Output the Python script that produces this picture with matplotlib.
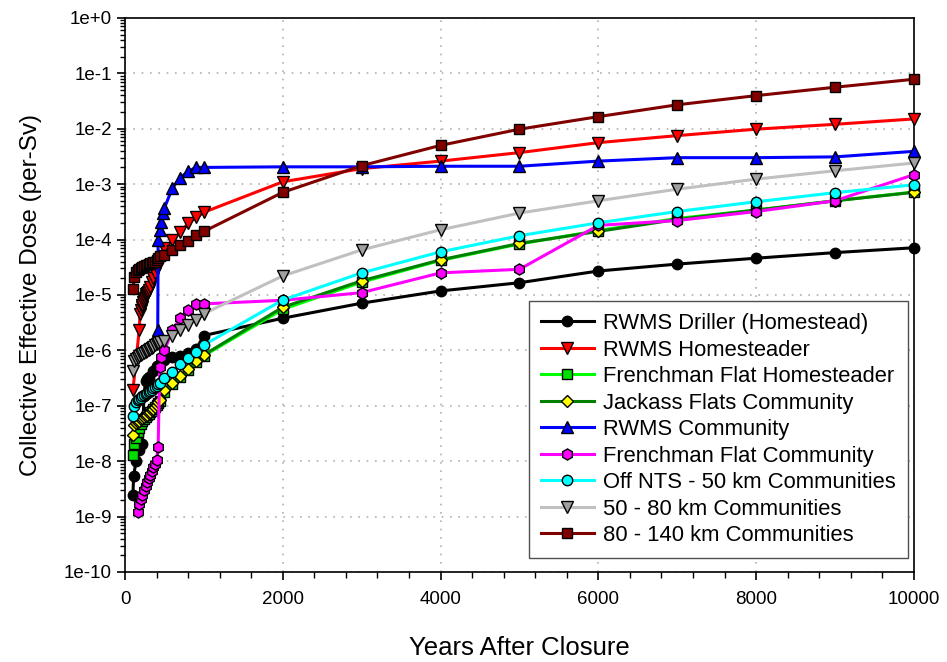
import numpy as np
import matplotlib
matplotlib.use("Agg")
import matplotlib.pyplot as plt
from matplotlib.ticker import FixedLocator, LogLocator, MultipleLocator, NullFormatter

plt.rcParams['font.family'] = ['Liberation Sans', 'DejaVu Sans']

# years after closure, shared late-time grid
t_late = [2000, 3000, 4000, 5000, 6000, 7000, 8000, 9000, 10000]
t_chain = [100, 120, 140, 160, 180, 200, 220, 240, 260, 280, 300, 320, 340, 360, 380, 400, 420, 440]
t_mid = [500, 600, 700, 800, 900, 1000]

# RWMS Driller (Homestead)
t_driller = [100, 110, 140, 180, 220, 240, 260, 280, 300, 350, 400, 450] + t_mid + t_late
v_driller = [2.5e-9, 5.5e-9, 1.0e-8, 1.6e-8, 2.0e-8, 1.5e-7, 2.8e-7, 3.1e-7, 3.3e-7, 4.2e-7, 5.2e-7, 6.2e-7,
             6.6e-7, 7.5e-7, 8.0e-7, 8.8e-7, 1.05e-6, 1.85e-6,
             3.8e-6, 7.1e-6, 1.18e-5, 1.66e-5, 2.7e-5, 3.6e-5, 4.6e-5, 5.8e-5, 7.1e-5]

# RWMS Homesteader
t_homest = [100, 180, 190, 200, 210, 220, 230, 240, 250, 260, 270, 280, 290, 300, 320, 340, 360, 380,
            400, 420, 440] + t_mid + t_late
v_homest = [1.9e-7, 2.3e-6, 4.5e-6, 5.3e-6, 6.0e-6, 6.7e-6, 7.4e-6, 8.1e-6, 8.8e-6, 9.5e-6, 1.02e-5,
            1.09e-5, 1.15e-5, 1.22e-5, 1.4e-5, 1.7e-5, 2.0e-5, 2.5e-5, 3.0e-5, 3.5e-5, 4.0e-5,
            7.0e-5, 9.6e-5, 1.35e-4, 1.95e-4, 2.5e-4, 3.1e-4,
            1.1e-3, 1.9e-3, 2.6e-3, 3.7e-3, 5.6e-3, 7.5e-3, 9.8e-3, 1.2e-2, 1.5e-2]

# Frenchman Flat Homesteader
t_ffh = t_chain + t_mid + t_late
v_ffh = [1.3e-8, 2.0e-8, 2.6e-8, 3.3e-8, 4.0e-8, 4.6e-8, 5.2e-8, 5.7e-8, 6.2e-8, 6.7e-8, 7.2e-8, 7.7e-8,
         8.2e-8, 8.8e-8, 9.4e-8, 1.02e-7, 1.12e-7, 1.22e-7,
         1.8e-7, 2.5e-7, 3.3e-7, 4.5e-7, 6.1e-7, 8.0e-7,
         5.5e-6, 1.7e-5, 4.2e-5, 8.3e-5, 1.45e-4, 2.4e-4, 3.4e-4, 5.0e-4, 7.2e-4]

# Jackass Flats Community
t_jack = t_chain + t_mid + t_late
v_jack = [3.0e-8, 4.4e-8, 4.8e-8, 5.1e-8, 5.4e-8, 5.7e-8, 6.0e-8, 6.3e-8, 6.6e-8, 6.9e-8, 7.3e-8, 7.8e-8,
          8.3e-8, 8.9e-8, 9.6e-8, 1.05e-7, 1.15e-7, 1.27e-7,
          1.9e-7, 2.6e-7, 3.4e-7, 4.6e-7, 6.3e-7, 8.3e-7,
          6.0e-6, 1.8e-5, 4.3e-5, 8.5e-5, 1.4e-4, 2.3e-4, 3.4e-4, 5.0e-4, 7.1e-4]

# RWMS Community
t_rwmsc = [415, 420, 440, 460, 480] + t_mid + t_late
v_rwmsc = [2.3e-6, 1.0e-4, 1.5e-4, 2.1e-4, 3.0e-4,
           3.7e-4, 8.5e-4, 1.3e-3, 1.7e-3, 2.0e-3, 2.0e-3,
           2.05e-3, 2.05e-3, 2.1e-3, 2.1e-3, 2.6e-3, 3.0e-3, 3.0e-3, 3.1e-3, 3.9e-3]

# Frenchman Flat Community
t_ffc = [160, 180, 200, 220, 240, 260, 280, 300, 320, 340, 360, 380, 400, 420, 440, 460] + t_mid + t_late
v_ffc = [1.2e-9, 1.7e-9, 2.1e-9, 2.5e-9, 3.0e-9, 3.6e-9, 4.2e-9, 5.0e-9, 5.7e-9, 6.6e-9, 7.7e-9, 8.9e-9,
         1.05e-8, 1.8e-8, 5.0e-7, 7.5e-7,
         1.0e-6, 2.3e-6, 3.8e-6, 5.4e-6, 6.9e-6, 6.9e-6,
         8.0e-6, 1.1e-5, 2.5e-5, 2.9e-5, 1.8e-4, 2.2e-4, 3.2e-4, 5.0e-4, 1.48e-3]

# Off NTS - 50 km Communities
t_off50 = t_chain + t_mid + t_late
v_off50 = [6.5e-8, 1.0e-7, 1.15e-7, 1.25e-7, 1.32e-7, 1.4e-7, 1.47e-7, 1.54e-7, 1.62e-7, 1.7e-7, 1.78e-7,
           1.87e-7, 1.96e-7, 2.06e-7, 2.17e-7, 2.3e-7, 2.45e-7, 2.6e-7,
           3.2e-7, 4.1e-7, 5.7e-7, 7.2e-7, 9.5e-7, 1.25e-6,
           8.1e-6, 2.5e-5, 6.0e-5, 1.17e-4, 2.0e-4, 3.2e-4, 4.8e-4, 7.0e-4, 9.7e-4]

# 50 - 80 km Communities
t_c5080 = t_chain + t_mid + t_late
v_c5080 = [4.2e-7, 6.5e-7, 7.0e-7, 7.4e-7, 7.8e-7, 8.2e-7, 8.6e-7, 9.0e-7, 9.4e-7, 9.8e-7, 1.02e-6,
           1.07e-6, 1.12e-6, 1.17e-6, 1.23e-6, 1.3e-6, 1.37e-6, 1.44e-6,
           1.5e-6, 1.8e-6, 2.3e-6, 2.9e-6, 3.5e-6, 4.6e-6,
           2.2e-5, 6.5e-5, 1.5e-4, 3.0e-4, 5.0e-4, 8.1e-4, 1.23e-3, 1.74e-3, 2.4e-3]

# 80 - 140 km Communities
t_c80140 = t_chain + t_mid + t_late
v_c80140 = [1.3e-5, 2.1e-5, 2.6e-5, 2.8e-5, 2.95e-5, 3.1e-5, 3.2e-5, 3.3e-5, 3.4e-5, 3.5e-5, 3.6e-5,
            3.7e-5, 3.8e-5, 3.9e-5, 4.0e-5, 4.2e-5, 4.6e-5, 5.0e-5,
            5.3e-5, 6.5e-5, 7.8e-5, 9.5e-5, 1.2e-4, 1.4e-4,
            7.1e-4, 2.15e-3, 5.0e-3, 9.8e-3, 1.65e-2, 2.7e-2, 3.95e-2, 5.6e-2, 7.8e-2]

series = [
    ("RWMS Driller (Homestead)", t_driller, v_driller, "black", "o", "black"),
    ("RWMS Homesteader", t_homest, v_homest, "#ff0000", "v", "#ff0000"),
    ("Frenchman Flat Homesteader", t_ffh, v_ffh, "#00ff00", "s", "#00e000"),
    ("Jackass Flats Community", t_jack, v_jack, "#008000", "D", "#ffff00"),
    ("RWMS Community", t_rwmsc, v_rwmsc, "#0000ff", "^", "#0000ff"),
    ("Frenchman Flat Community", t_ffc, v_ffc, "#ff00ff", "h", "#ff00ff"),
    ("Off NTS - 50 km Communities", t_off50, v_off50, "#00ffff", "o", "#00ffff"),
    ("50 - 80 km Communities", t_c5080, v_c5080, "#c0c0c0", "v", "#a0a0a0"),
    ("80 - 140 km Communities", t_c80140, v_c80140, "#800000", "s", "#800000"),
]
msize = {"o": 7.5, "v": 8.5, "^": 8.5, "s": 7.0, "D": 6.5, "h": 8.0}

fig = plt.figure(figsize=(9.47, 6.62), dpi=100)
ax = fig.add_axes([0.132, 0.136, 0.833, 0.837])

for name, t, v, lc, mk, fc in series:
    ax.plot(t, v, color=lc, lw=2.2, marker=mk, markersize=msize[mk], markerfacecolor=fc,
            markeredgecolor="black", markeredgewidth=1.0, label=name, clip_on=False, zorder=3)

ax.set_yscale("log")
ax.set_xlim(0, 10000)
ax.set_ylim(1e-10, 1)
decades = [10.0 ** k for k in range(-10, 1)]
ax.yaxis.set_major_locator(FixedLocator(decades))
ax.set_yticklabels(["1e-10"] + ["1e-%d" % k for k in range(9, 0, -1)] + ["1e+0"])
ax.yaxis.set_minor_locator(LogLocator(base=10, subs=np.arange(2, 10), numticks=20))
ax.yaxis.set_minor_formatter(NullFormatter())
ax.xaxis.set_major_locator(MultipleLocator(2000))
ax.xaxis.set_minor_locator(MultipleLocator(400))

ax.tick_params(which="major", direction="out", length=6, width=1.2, labelsize=13.5, top=False, right=False)
ax.tick_params(which="minor", direction="out", length=3.5, width=1, top=False, right=False)
ax.tick_params(axis="x", which="minor", length=4)
ax.tick_params(axis="x", pad=8)

ax.grid(True, which="major", color="#b0b0b0", linestyle=(0, (1, 4)), linewidth=1.2, zorder=0)
for s in ax.spines.values():
    s.set_linewidth(1.2)

ax.set_xlabel("Years After Closure", fontsize=18.5, labelpad=20)
ax.set_ylabel("Collective Effective Dose (per-Sv)", fontsize=17.5, labelpad=16)

leg = ax.legend(loc="lower right", bbox_to_anchor=(0.992, 0.025), borderaxespad=0, fontsize=15.8,
                numpoints=1, handlelength=2.4, handletextpad=0.42, labelspacing=0.25, borderpad=0.55,
                fancybox=False, framealpha=1, edgecolor="#505050")
leg.get_frame().set_linewidth(1.0)

fig.savefig("out.png", dpi=100)
